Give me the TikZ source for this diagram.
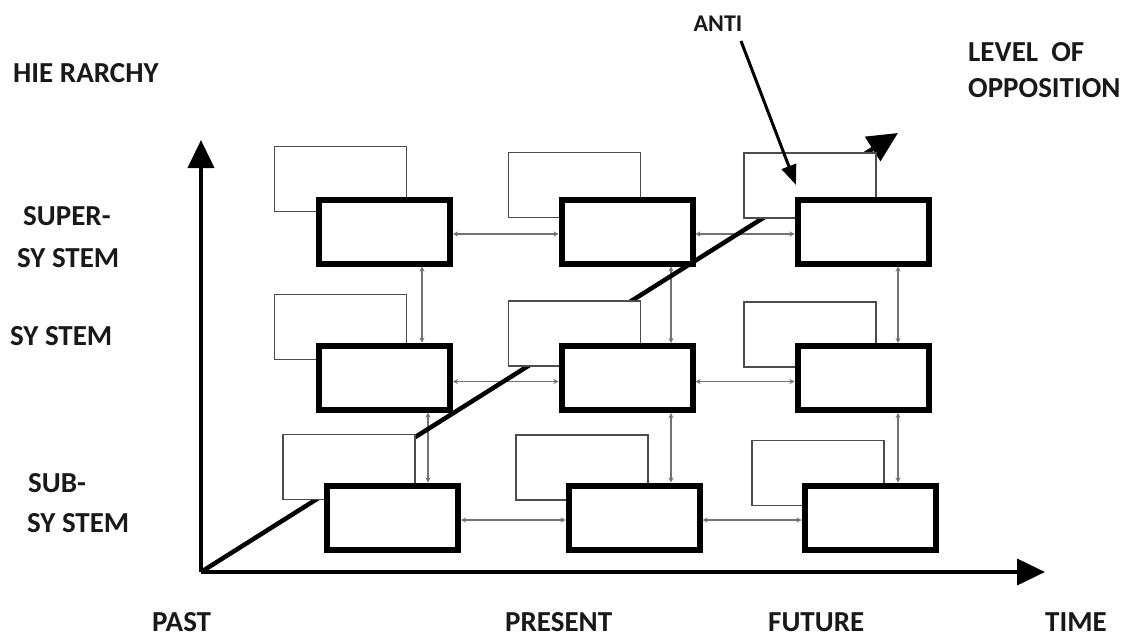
\documentclass[tikz,border=0pt]{standalone}
\usepackage{fontspec}
\setmainfont{Carlito}
\usetikzlibrary{arrows.meta}
\pgfdeclarelayer{connlayer}
\pgfdeclarelayer{diaglayer}
\pgfsetlayers{connlayer,diaglayer,main}
\begin{document}
\begin{tikzpicture}[x=1pt,y=-1pt,
  heavybox/.style={draw=black, fill=white, line width=6pt, minimum width=131pt, minimum height=64pt, inner sep=0pt},
  backbox/.style={draw=black!70, fill=white, line width=1.5pt, minimum width=132pt, minimum height=65pt, inner sep=0pt},
  conn/.style={draw=black!55, line width=1.3pt, {Stealth[length=5pt,width=5pt]}-{Stealth[length=5pt,width=5pt]}},
  axis/.style={line width=4pt, -{Triangle[length=28pt,width=26pt]}},
  lbl/.style={font=\fontsize{29}{31}\selectfont\bfseries, inner sep=0pt, anchor=base west, text=black!90}
]
\useasboundingbox (0,0) rectangle (1123,637);

% back (thin) boxes
\node[backbox] (t1) at (340.5,179) {};
\node[backbox] (t2) at (574.5,185) {};
\node[backbox] (t3) at (810,185.5) {};
\node[backbox] (m1) at (340.5,327) {};
\node[backbox] (m2) at (574.5,333.5) {};
\node[backbox] (m3) at (810,334.5) {};
\node[backbox] (b1) at (349,467) {};
\node[backbox] (b2) at (582,467.5) {};
\node[backbox] (b3) at (818,473) {};

% heavy boxes
\node[heavybox] (T1) at (384.5,231.5) {};
\node[heavybox] (T2) at (627,231.5) {};
\node[heavybox] (T3) at (863,231.5) {};
\node[heavybox] (M1) at (384.5,377.5) {};
\node[heavybox] (M2) at (627,378) {};
\node[heavybox] (M3) at (863,378) {};
\node[heavybox] (B1) at (392.5,517.5) {};
\node[heavybox] (B2) at (634,517.5) {};
\node[heavybox] (B3) at (870,517.5) {};

% connector guides
\coordinate (h1) at (0,234);
\coordinate (h2) at (0,381.5);
\coordinate (h3) at (0,520);
\coordinate (v1) at (422,0);
\coordinate (v1b) at (428,0);
\coordinate (v2) at (671,0);
\coordinate (v3) at (898,0);

\begin{pgfonlayer}{connlayer}
\draw[conn] (T1.east |- h1) -- (T2.west |- h1);
\draw[conn] (T2.east |- h1) -- (T3.west |- h1);
\draw[conn] (M1.east |- h2) -- (M2.west |- h2);
\draw[conn] (M2.east |- h2) -- (M3.west |- h2);
\draw[conn] (B1.east |- h3) -- (B2.west |- h3);
\draw[conn] (B2.east |- h3) -- (B3.west |- h3);
\draw[conn] (T1.south -| v1) -- (M1.north -| v1);
\draw[conn] (M1.south -| v1b) -- (B1.north -| v1b);
\draw[conn] (T2.south -| v2) -- (M2.north -| v2);
\draw[conn] (M2.south -| v2) -- (B2.north -| v2);
\draw[conn] (T3.south -| v3) -- (M3.north -| v3);
\draw[conn] (M3.south -| v3) -- (B3.north -| v3);
\end{pgfonlayer}

% axes
\coordinate (O) at (201,572);
\coordinate (Y) at (201,140);
\coordinate (X) at (1045,572);
\coordinate (D) at (898,133);
\draw[axis] (O) -- (Y);
\draw[axis] (O) -- (X);
\begin{pgfonlayer}{diaglayer}
\draw[line width=4.5pt, -{Triangle[length=30pt,width=28pt]}] (O) -- (D);
\end{pgfonlayer}

% labels
\node[lbl] (hier) at (13,82) {HIE RARCHY};
\node[lbl] (super) at (23,225) {SUPER-};
\node[lbl] (supersys) at (17,267) {SY STEM};
\node[lbl] (sys) at (10,345) {SY STEM};
\node[lbl] (sub) at (28,492) {SUB-};
\node[lbl] (subsys) at (27,532) {SY STEM};
\node[lbl] (level) at (968,61) {LEVEL\ \ OF};
\node[lbl] (opp) at (968,97) {OPPOSITION};
\node[lbl] (past) at (152,631) {PAST};
\node[lbl] (present) at (505,631) {PRESENT};
\node[lbl] (future) at (768,631) {FUTURE};
\node[lbl] (time) at (1045,631) {TIME};
\node[lbl, anchor=base, font=\fontsize{24}{26}\selectfont\bfseries] (anti) at (718,31) {ANTI};

% ANTI arrow
\coordinate (antistart) at (741,41);
\coordinate (antitip) at (796,185);
\draw[line width=3pt, -{Triangle[length=20pt,width=15pt]}] (antistart) -- (antitip);
\end{tikzpicture}
\end{document}
